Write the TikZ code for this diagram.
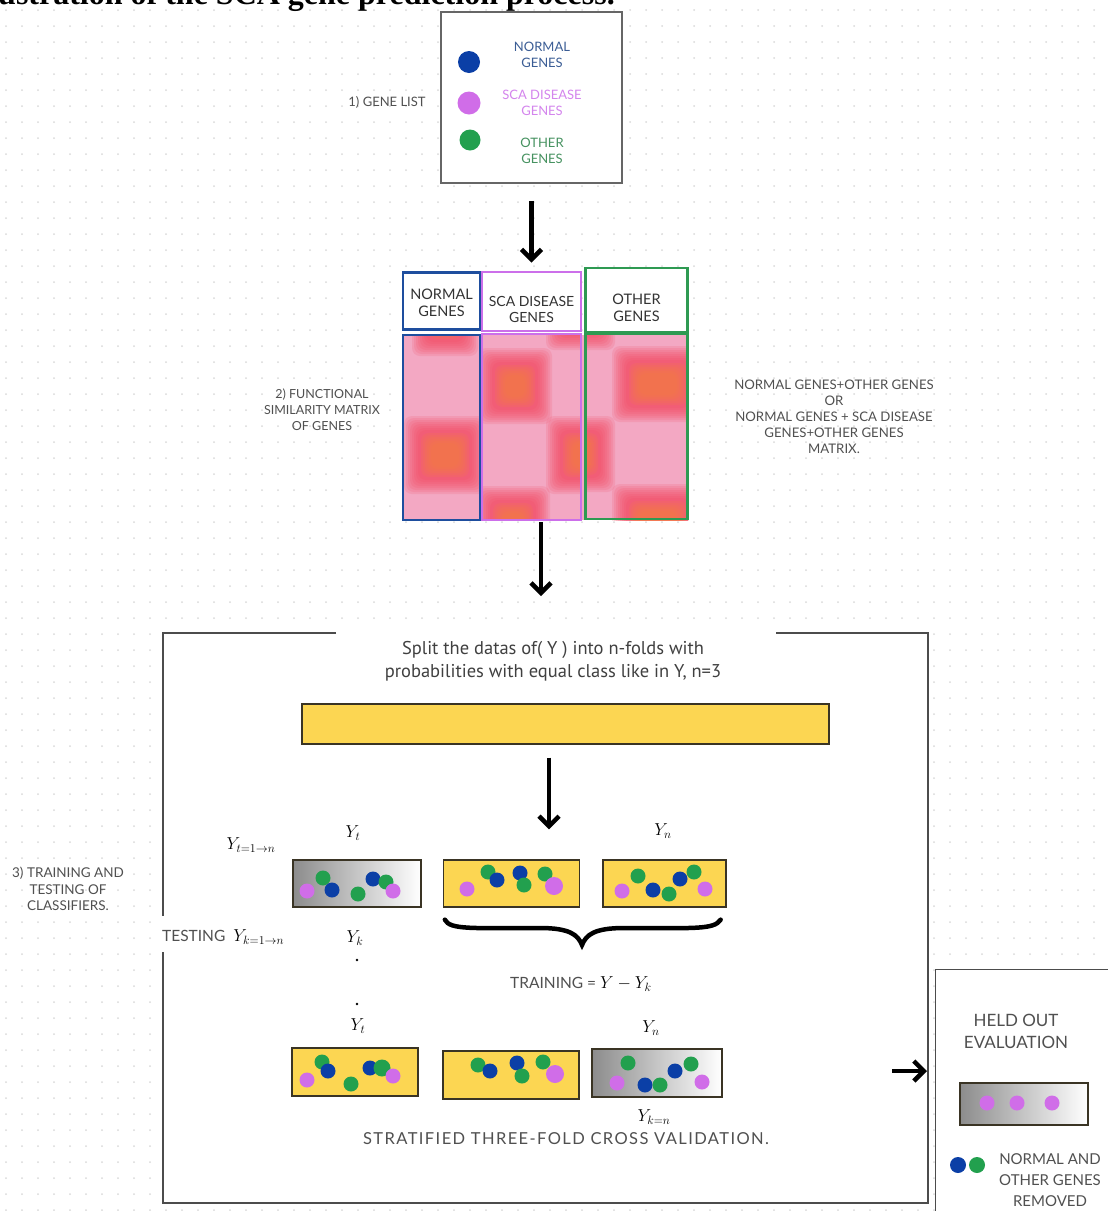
\documentclass[tikz,border=0pt]{standalone}
\usepackage{fontspec}
\usetikzlibrary{arrows.meta,calc}
\newfontfamily\lblfont{Lato}
\newfontfamily\widefont[LetterSpace=8.5]{Lato}
\newfontfamily\condfont{PT Sans}
\newfontfamily\ttlfont{Liberation Serif}
\definecolor{dBlue}{HTML}{0B3FA6}
\definecolor{dPink}{HTML}{D06DE8}
\definecolor{dGreen}{HTML}{22A04E}
\definecolor{cBlue}{HTML}{1E4E9E}
\definecolor{cPink}{HTML}{CC6FEA}
\definecolor{cGreen}{HTML}{2E9A52}
\definecolor{matPink}{HTML}{F3A8C3}
\definecolor{blobRed}{HTML}{F2445C}
\definecolor{blobOr}{HTML}{F5803C}
\definecolor{foldYel}{HTML}{FCD652}
\definecolor{boxLine}{HTML}{3A3424}
\definecolor{txtGray}{HTML}{505050}
\definecolor{gridDot}{HTML}{DADADA}
\newcommand\gdot[3]{\fill[#1] (#2,#3) circle (7.5);}
\newcommand\blob[4]{%
  \foreach \i in {0,2,...,14}{\fill[blobRed,opacity=0.15,rounded corners=8] ($(#1,#2)+(\i,\i)$) rectangle ($(#3,#4)-(\i,\i)$);}
  \foreach \i in {17,19,...,27}{\fill[blobOr,opacity=0.16,rounded corners=8] ($(#1,#2)+(\i,\i)$) rectangle ($(#3,#4)-(\i,\i)$);}
}
\tikzset{
  arr/.style={line width=4.5, -{Straight Barb[length=10,width=20,line width=4.5]}},
  frame/.style={draw=black!70, line width=1.3},
  ybox/.style={draw=boxLine, line width=1.3, fill=foldYel, inner sep=0},
  gbox/.style={draw=boxLine, line width=1.3, left color=black!45, right color=white, inner sep=0},
  lbl/.style={font=\lblfont\fontsize{13}{16}\selectfont, text=txtGray, align=center, inner sep=0},
  hdr/.style={font=\lblfont\fontsize{14.5}{17}\selectfont, text=black!80, align=center, inner sep=0},
  mth/.style={font=\fontsize{17.5}{20}\selectfont, inner sep=0},
}
\begin{document}
\begin{tikzpicture}[x=1pt,y=-1pt]
\useasboundingbox (0,0) rectangle (1108,1211);
\fill[white] (0,0) rectangle (1108,1211);
% dotted background grid
\foreach \x in {6,22,...,1108}{\foreach \y in {10,26,...,1211}{\fill[gridDot] (\x,\y) circle (1);}}
% title (cropped at top)
\node[anchor=base east, inner sep=0, font=\ttlfont\bfseries\fontsize{32}{36}\selectfont] (title) at (615,4) {Illustration of the SCA gene prediction process.};

% 1) gene list
\node[draw=black!60, line width=1.5, fill=white, minimum width=181, minimum height=171, inner sep=0] (genelist) at (531.5,97.5) {};
\fill[dBlue] (469,62) circle (11);
\fill[dPink] (469,103) circle (11.5);
\fill[dGreen] (470,140) circle (10.5);
\node[lbl, text=cBlue!70!gray] (tnorm) at (542,55) {NORMAL\\GENES};
\node[lbl, text=cPink!85!white] (tsca) at (542,103) {SCA DISEASE\\GENES};
\node[lbl, text=cGreen!70!gray] (toth) at (542,151) {OTHER\\GENES};
\node[lbl] (l1) at (387,102) {1) GENE LIST};

% 2) matrix
\fill[matPink] (403,335) rectangle (688,520);
\begin{scope}
\clip (403,335) rectangle (480,520);
\blob{412}{300}{478}{356}
\blob{404}{416}{486}{494}
\end{scope}
\begin{scope}
\clip (482,334) rectangle (581,520);
\blob{478}{348}{552}{424}
\blob{546}{300}{604}{350}
\blob{546}{416}{612}{494}
\blob{476}{486}{550}{556}
\end{scope}
\begin{scope}
\clip (585,334) rectangle (688,520);
\blob{560}{300}{615}{350}
\blob{612}{346}{704}{422}
\blob{560}{416}{615}{492}
\blob{612}{484}{704}{556}
\end{scope}
\node[draw=cBlue, line width=2.5, fill=white, minimum width=77, minimum height=57, inner sep=0] (bluehdr) at (441.5,301) {};
\node[draw=cPink, line width=2, fill=white, minimum width=99, minimum height=59, inner sep=0] (pinkhdr) at (531.5,301) {};
\node[draw=cGreen, line width=2.5, fill=white, minimum width=102, minimum height=64, inner sep=0] (greenhdr) at (636.5,300) {};
\node[draw=cBlue, line width=2.5, minimum width=77, minimum height=185, inner sep=0] (bluemat) at (441.5,427.5) {};
\node[draw=cPink, line width=2, minimum width=99, minimum height=186, inner sep=0] (pinkmat) at (531.5,427) {};
\node[draw=cGreen, line width=2.5, minimum width=102, minimum height=185, inner sep=0] (greenmat) at (636.5,426.5) {};
\node[hdr] (hn) at (441.5,303) {NORMAL\\GENES};
\node[hdr, font=\lblfont\fontsize{14}{16}\selectfont] (hs) at (531.5,309) {SCA DISEASE\\GENES};
\node[hdr] (ho) at (636.5,308) {OTHER\\GENES};
\node[lbl, font=\lblfont\fontsize{12.5}{16}\selectfont] (l2) at (322,410) {2) FUNCTIONAL\\SIMILARITY MATRIX\\OF GENES};
\node[lbl, font=\lblfont\fontsize{13.2}{16}\selectfont] (rtxt) at (834,417) {NORMAL GENES+OTHER GENES\\OR\\NORMAL GENES + SCA DISEASE\\GENES+OTHER GENES\\MATRIX.};

\draw[arr] ([yshift=-17]genelist.south) -- ([yshift=8]pinkhdr.north);
\coordinate (a2e) at (541,596);
\draw[arr] ([xshift=9.5,yshift=-1]pinkmat.south) -- (a2e);

% 3) training and testing
\fill[white] (163,633) rectangle (928,1203);
\draw[frame] (336,633) -- (163,633) -- (163,916);
\draw[frame] (163,952) -- (163,1203) -- (928,1203) -- (928,633) -- (776,633);
\node[font=\condfont\fontsize{18.5}{23}\selectfont, text=black!75, align=center, inner sep=0] (split) at (553,661) {Split the datas of( Y ) into n-folds with\\probabilities with equal class like in Y, n=3};
\node[ybox, minimum width=527, minimum height=40] (ybar) at (565.5,724) {};

\node[gbox, minimum width=128, minimum height=47] (fa) at (357,883.5) {};
\node[ybox, minimum width=136, minimum height=47] (fb) at (511.5,883.5) {};
\node[ybox, minimum width=123, minimum height=47] (fc) at (664.5,883.5) {};
\draw[arr] ([xshift=-16.5,yshift=-13]ybar.south) -- ([xshift=37.5,yshift=30]fb.north);

\gdot{dPink}{307}{891}\gdot{dGreen}{323}{878}\gdot{dBlue}{332}{890}\gdot{dGreen}{358}{894}\gdot{dBlue}{373}{879}\gdot{dGreen}{386}{882}\gdot{dPink}{393}{891}
\gdot{dPink}{467}{889}\gdot{dGreen}{488}{872}\gdot{dBlue}{497}{880}\gdot{dBlue}{520}{873}\gdot{dGreen}{524}{885}\gdot{dGreen}{545}{874}\fill[dPink] (554,886) circle (9);
\gdot{dPink}{622}{891}\gdot{dGreen}{638}{876}\gdot{dBlue}{653}{890}\gdot{dGreen}{669}{894}\gdot{dBlue}{680}{879}\gdot{dGreen}{694}{872}\gdot{dPink}{705}{889}

\draw[line width=4.5, line cap=round] ([xshift=2,yshift=-12]fb.south west) .. controls (450,930) and (472,928) .. (540,928) .. controls (570,928) and (578,935) .. (582,945) coordinate (brtip) .. controls (586,935) and (594,928) .. (624,928) .. controls (694,928) and (714,930) .. ([xshift=-6,yshift=-12]fc.south east);

\node[mth] (ytn) at (251,845) {$Y_{t=1\to n}$};
\node[mth] (yt1) at (353,833) {$Y_t$};
\node[mth] (yn1) at (663,831) {$Y_n$};
\node[anchor=west, inner sep=0] (testing) at (162,937) {\lblfont\fontsize{15.5}{18}\selectfont\color{txtGray}TESTING\ \ \fontsize{17.5}{20}\selectfont\color{black}$Y_{k=1\to n}$};
\node[mth] (yk1) at (355,938) {$Y_k$};
\fill (357,960) circle (1.3);
\fill (357,1004) circle (1.3);
\node[anchor=west, inner sep=0] (train) at (510,984) {\lblfont\fontsize{15.5}{18}\selectfont\color{txtGray}TRAINING = \fontsize{17.5}{20}\selectfont\color{black}$Y - Y_k$};

\node[mth] (yt2) at (358,1026) {$Y_t$};
\node[mth] (yn2) at (651,1028) {$Y_n$};
\node[ybox, minimum width=126, minimum height=48] (fd) at (355,1072) {};
\node[ybox, minimum width=136, minimum height=48] (fe) at (511,1075) {};
\node[gbox, minimum width=130, minimum height=48] (ff) at (657,1073) {};
\gdot{dPink}{307}{1080}\gdot{dGreen}{322}{1062}\gdot{dBlue}{328}{1071}\gdot{dGreen}{351}{1084}\gdot{dBlue}{370}{1068}\fill[dGreen] (382,1068) circle (8.5);\gdot{dPink}{393}{1076}
\gdot{dGreen}{478}{1065}\gdot{dBlue}{490}{1071}\gdot{dBlue}{517}{1063}\gdot{dGreen}{522}{1076}\gdot{dGreen}{543}{1062}\fill[dPink] (555,1074) circle (9);
\gdot{dPink}{617}{1083}\gdot{dGreen}{628}{1063}\gdot{dBlue}{645}{1085}\gdot{dGreen}{660}{1085}\gdot{dBlue}{675}{1071}\gdot{dGreen}{691}{1064}\gdot{dPink}{702}{1082}
\node[mth] (ykn) at (654,1117) {$Y_{k=n}$};
\node[lbl, font=\widefont\fontsize{16.5}{18}\selectfont] (strat) at (566,1139) {STRATIFIED THREE-FOLD CROSS VALIDATION.};
\node[lbl, font=\lblfont\fontsize{13.5}{16.5}\selectfont] (l3) at (68,889) {3) TRAINING AND\\TESTING OF\\CLASSIFIERS.};

% held-out evaluation
\node[draw=black!70, line width=1.3, fill=white, minimum width=190, minimum height=260, inner sep=0, anchor=north west] (held) at (935,969) {};
\coordinate (a4s) at (892,1071);
\draw[arr] (a4s) -- ([xshift=-8,yshift=-102]held.north west);
\node[lbl, font=\lblfont\fontsize{17}{22}\selectfont] (heldt) at (1016,1031) {HELD OUT\\EVALUATION};
\node[gbox, minimum width=128, minimum height=42] (fh) at (1024,1104) {};
\gdot{dPink}{987}{1103}\gdot{dPink}{1017}{1103}\gdot{dPink}{1052}{1103}
\fill[dBlue] (958,1165) circle (8);
\fill[dGreen] (977,1165) circle (8);
\node[lbl, font=\lblfont\fontsize{15}{21}\selectfont] (rem) at (1050,1180) {NORMAL AND\\OTHER GENES\\REMOVED};
\end{tikzpicture}
\end{document}
